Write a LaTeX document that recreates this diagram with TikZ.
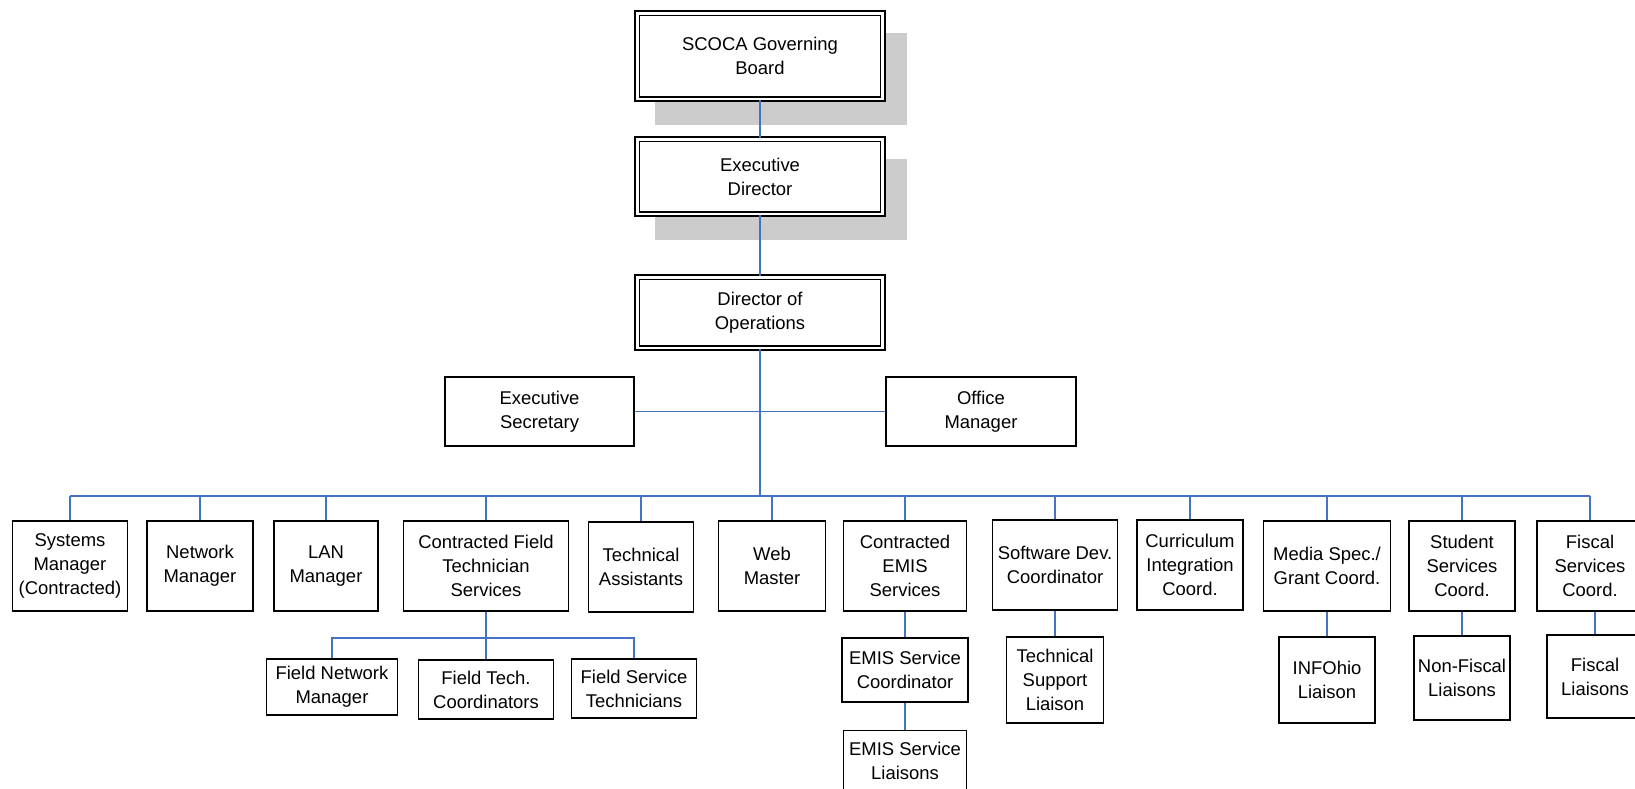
\documentclass[tikz,border=0pt]{standalone}
\usepackage{fontspec}
\setmainfont{Liberation Sans}
\usetikzlibrary{backgrounds}
\definecolor{linkblue}{RGB}{68,114,196}
\definecolor{shadowgray}{RGB}{204,204,204}

\begin{document}
\begin{tikzpicture}[
  x=0.02cm, y=-0.02cm,
  font=\fontsize{10.5}{13.7}\selectfont,
  my box/.style={
    draw, line width=0.8pt, fill=white,
    align=center, inner sep=1pt,
  },
  head box/.style={
    my box, double, double distance=1.7pt,
    minimum width=4.92cm,
  },
  row box/.style={my box, minimum height=1.8cm},
  link/.style={draw=linkblue, line width=0.75pt},
  ]
  \useasboundingbox (0,0) rectangle (1635,788);
  % top of the chart
  \node [head box, minimum height=1.72cm] (board) at (760,56) {SCOCA Governing\\Board};
  \node [head box, minimum height=1.50cm] (exec) at (760,176.5) {Executive\\Director};
  \node [head box, minimum height=1.42cm] (ops) at (760,312.5) {Director of\\Operations};
  \node [my box, minimum width=3.78cm, minimum height=1.38cm] (sec) at (539.5,411.5) {Executive\\Secretary};
  \node [my box, minimum width=3.80cm, minimum height=1.38cm] (office) at (981,411.5) {Office\\Manager};
  \begin{scope}[on background layer]
    \foreach \n in {board,exec}
      \fill [shadowgray] ([shift={(19,21)}]\n.north west) rectangle ([shift={(23,25)}]\n.south east);
  \end{scope}
  % first row
  \node [row box, minimum width=2.30cm] (sys) at (70,566) {Systems\\Manager\\(Contracted)};
  \node [row box, minimum width=2.12cm] (net) at (200,566) {Network\\Manager};
  \node [row box, minimum width=2.08cm] (lan) at (326,566) {LAN\\Manager};
  \node [row box, minimum width=3.30cm] (cfts) at (486,566) {Contracted Field\\Technician\\Services};
  \node [row box, minimum width=2.10cm] (asst) at (641,567) {Technical\\Assistants};
  \node [row box, minimum width=2.14cm] (web) at (772,566) {Web\\Master};
  \node [row box, minimum width=2.46cm] (cemis) at (905,566) {Contracted\\EMIS\\Services};
  \node [row box, minimum width=2.50cm] (soft) at (1055,565) {Software Dev.\\Coordinator};
  \node [row box, minimum width=2.12cm] (curr) at (1190,565) {Curriculum\\Integration\\Coord.};
  \node [row box, minimum width=2.54cm] (media) at (1327,566) {Media Spec./\\Grant Coord.};
  \node [row box, minimum width=2.12cm] (stud) at (1462,566) {Student\\Services\\Coord.};
  \node [row box, minimum width=2.12cm] (fisc) at (1590,566) {Fiscal\\Services\\Coord.};
  % second row
  \node [my box, minimum width=2.62cm, minimum height=1.12cm] (fnm) at (332,687) {Field Network\\Manager};
  \node [my box, minimum width=2.70cm, minimum height=1.18cm] (ftc) at (486,689.5) {Field Tech.\\Coordinators};
  \node [my box, minimum width=2.50cm, minimum height=1.18cm] (fst) at (634,688.5) {Field Service\\Technicians};
  \node [my box, minimum width=2.52cm, minimum height=1.28cm] (emisc) at (905,670) {EMIS Service\\Coordinator};
  \node [my box, minimum width=2.46cm, minimum height=1.22cm, anchor=north] (emisl) at (905,730) {EMIS Service\\Liaisons};
  \node [my box, minimum width=1.94cm, minimum height=1.72cm] (tsl) at (1055,680) {Technical\\Support\\Liaison};
  \node [my box, minimum width=1.92cm, minimum height=1.72cm] (info) at (1327,680) {INFOhio\\Liaison};
  \node [my box, minimum width=1.92cm, minimum height=1.68cm] (nonfisc) at (1462,678) {Non-Fiscal\\Liaisons};
  \node [my box, minimum width=1.92cm, minimum height=1.66cm] (fisl) at (1595,676.5) {Fiscal\\Liaisons};
  % connectors
  \coordinate (bus) at (760,496);
  \coordinate (fbus) at (486,638);
  \draw [link] (board.south) -- (exec.north);
  \draw [link] (exec.south) -- (ops.north);
  \draw [link] (ops.south) -- (bus);
  \draw [link] (sec.east) -- (office.west);
  \draw [link] (sys.north |- bus) -- (fisc.north |- bus);
  \foreach \n in {sys,net,lan,cfts,asst,web,cemis,soft,curr,media,stud,fisc}
    \draw [link] (\n.north) -- (\n.north |- bus);
  \draw [link] (cfts.south) -- (ftc.north);
  \draw [link] (fnm.north) |- (fbus) -| (fst.north);
  \draw [link] (cemis.south) -- (emisc.north);
  \draw [link] (emisc.south) -- (emisl.north);
  \draw [link] (soft.south) -- (tsl.north);
  \draw [link] (media.south) -- (info.north);
  \draw [link] (stud.south) -- (nonfisc.north);
  \draw [link] (fisc.south -| fisl.north) -- (fisl.north);
\end{tikzpicture}
\end{document}
